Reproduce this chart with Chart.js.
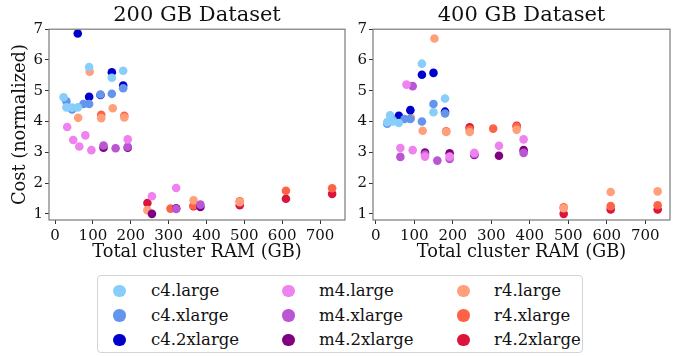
<!DOCTYPE html>
<html>
<head>
<meta charset="utf-8">
<script src="https://cdn.jsdelivr.net/npm/chart.js@4.4.0/dist/chart.umd.min.js"></script>
<style>
body { margin: 0; width: 680px; height: 356px; position: relative; overflow: hidden; background: #fff; font-family: "DejaVu Serif", serif; }
#left { position: absolute; left: 0; top: 0; }
#right { position: absolute; left: 345px; top: 0; }
.legend { position: absolute; left: 97px; top: 275px; width: 484px; height: 76px; border: 1px solid #d4d4d4; border-radius: 4px; }
.item { position: absolute; height: 24px; line-height: 24px; font-size: 16.5px; color: #111; white-space: nowrap; }
.dot { position: absolute; width: 12.5px; height: 12.5px; border-radius: 50%; top: 5.75px; }
</style>
</head>
<body>
<canvas id="left" width="350" height="270"></canvas>
<canvas id="right" width="335" height="270"></canvas>
<div class="legend" id="legend"></div>
<script>
// series (instance types) and colours
const seriesNames = ['c4.large', 'c4.xlarge', 'c4.2xlarge', 'm4.large', 'm4.xlarge', 'm4.2xlarge', 'r4.large', 'r4.xlarge', 'r4.2xlarge'];
const seriesColors = ['#87cefa', '#6495ed', '#0000cd', '#ee82ee', '#ba55d3', '#800080', '#ffa07a', '#ff6347', '#dc143c'];
const xTicks = [0, 100, 200, 300, 400, 500, 600, 700];
const yTicks = [1, 2, 3, 4, 5, 6, 7];

// 200 GB dataset: [total cluster RAM (GB), normalized cost]
const c4large200 = [[22.5, 4.79], [30, 4.46], [45, 4.45], [60, 4.46], [90, 5.77], [150, 5.42], [180, 5.65]];
const c4xlarge200 = [[30, 4.66], [45, 4.39], [75, 4.57], [90, 4.57], [120, 4.88], [150, 4.9], [180, 5.08]];
const c42xlarge200 = [[60, 6.86], [90, 4.8], [120, 4.86], [150, 5.6], [180, 5.17]];
const m4large200 = [[32, 3.82], [48, 3.4], [64, 3.19], [80, 3.55], [96, 3.07], [192, 3.42], [256, 1.57], [320, 1.84]];
const m4xlarge200 = [[128, 3.22], [160, 3.13], [192, 3.18], [320, 1.16], [384, 1.3]];
const m42xlarge200 = [[128, 3.15], [192, 3.15], [256, 1.0], [320, 1.18], [384, 1.22]];
const r4large200 = [[61, 4.12], [91.5, 5.62], [122, 4.11], [152.5, 4.43], [183, 4.13], [244, 1.12], [366, 1.44], [488, 1.38]];
const r4xlarge200 = [[122, 4.22], [183, 4.19], [305, 1.17], [366, 1.27], [488, 1.41], [610, 1.75], [732, 1.83]];
const r42xlarge200 = [[244, 1.35], [366, 1.25], [488, 1.28], [610, 1.49], [732, 1.65]];

// 400 GB dataset
const c4large400 = [[30, 3.98], [37.5, 4.2], [45, 4.0], [60, 3.95], [120, 5.88], [150, 4.3], [180, 4.75]];
const c4xlarge400 = [[30, 3.93], [45, 4.05], [75, 4.08], [90, 4.08], [120, 4.0], [150, 4.57], [180, 4.26]];
const c42xlarge400 = [[60, 4.19], [90, 4.37], [120, 5.52], [150, 5.58], [180, 4.32]];
const m4large400 = [[64, 3.14], [80, 5.2], [96, 3.07], [128, 2.86], [192, 2.86], [256, 2.98], [320, 3.21], [384, 3.42]];
const m4xlarge400 = [[64, 2.85], [96, 5.15], [128, 2.93], [160, 2.73], [192, 2.78], [256, 2.94], [384, 2.98]];
const m42xlarge400 = [[128, 2.99], [192, 2.97], [256, 2.91], [320, 2.89], [384, 3.07]];
const r4large400 = [[91.5, 4.12], [122, 3.7], [152.5, 6.7], [183, 3.66], [244, 3.66], [366, 3.73], [488, 1.18], [610, 1.71], [732, 1.73]];
const r4xlarge400 = [[183, 3.68], [244, 3.74], [305, 3.77], [366, 3.84], [488, 1.21], [610, 1.25], [732, 1.28]];
const r42xlarge400 = [[244, 3.81], [366, 3.86], [488, 1.0], [610, 1.14], [732, 1.14]];

const series200 = [c4large200, c4xlarge200, c42xlarge200, m4large200, m4xlarge200, m42xlarge200, r4large200, r4xlarge200, r42xlarge200];
const series400 = [c4large400, c4xlarge400, c42xlarge400, m4large400, m4xlarge400, m42xlarge400, r4large400, r4xlarge400, r42xlarge400];

const serif = '"DejaVu Serif", serif';

// box around the plot area, like matplotlib spines
const framePlugin = {
    id: 'frame',
    afterDatasetsDraw(chart) {
        const { ctx, chartArea: { left, top, right, bottom } } = chart;
        ctx.save();
        ctx.strokeStyle = '#7a7a7a';
        ctx.lineWidth = 1.2;
        ctx.strokeRect(left, top, right - left, bottom - top);
        ctx.restore();
    }
};

function makeChart(id, title, series, xMin, xMax, yWidth, showYTitle) {
    const datasets = series.map((pts, i) => ({
        label: seriesNames[i],
        data: pts.map(p => ({ x: p[0], y: p[1] })),
        backgroundColor: seriesColors[i],
        borderWidth: 0,
        pointRadius: 4.3
    }));
    return new Chart(document.getElementById(id), {
        type: 'scatter',
        data: { datasets },
        options: {
            responsive: false,
            animation: false,
            layout: { padding: { left: 0, right: id === 'left' ? 5 : 10, top: 0, bottom: 0 } },
            plugins: {
                legend: { display: false },
                tooltip: { enabled: false },
                title: {
                    display: true,
                    fullSize: false,
                    text: title,
                    color: '#111',
                    font: { family: serif, size: 21, weight: 'normal', lineHeight: 1.2 },
                    padding: { top: 3, bottom: 1 }
                }
            },
            scales: {
                x: {
                    type: 'linear',
                    min: xMin,
                    max: xMax,
                    afterBuildTicks: s => { s.ticks = xTicks.map(v => ({ value: v })); },
                    afterFit: s => { s.height = 50; },
                    ticks: { color: '#111', font: { family: serif, size: 15 }, padding: 3, maxRotation: 0 },
                    grid: { drawOnChartArea: false, tickLength: 4, tickColor: '#333' },
                    border: { display: false },
                    title: {
                        display: true,
                        text: 'Total cluster RAM (GB)',
                        color: '#111',
                        font: { family: serif, size: 17.8, lineHeight: 1.2 },
                        padding: { top: 0, bottom: 7.3 }
                    }
                },
                y: {
                    type: 'linear',
                    min: 0.8,
                    max: 7,
                    afterBuildTicks: s => { s.ticks = yTicks.map(v => ({ value: v })); },
                    afterFit: s => { s.width = yWidth; },
                    ticks: { color: '#111', font: { family: serif, size: 15 }, padding: 2 },
                    grid: { drawOnChartArea: false, tickLength: 4, tickColor: '#333' },
                    border: { display: false },
                    title: {
                        display: showYTitle,
                        text: 'Cost (normalized)',
                        color: '#111',
                        font: { family: serif, size: 17.8, lineHeight: 1.2 },
                        padding: { top: 9.3, bottom: 0 }
                    }
                }
            }
        },
        plugins: [framePlugin]
    });
}

makeChart('left', '200 GB Dataset', series200, -16, 766, 49, true);
makeChart('right', '400 GB Dataset', series400, -7, 764, 28, false);

// legend, three columns of three
const legend = document.getElementById('legend');
seriesNames.forEach((name, i) => {
    const col = Math.floor(i / 3), row = i % 3;
    const item = document.createElement('div');
    item.className = 'item';
    item.style.left = [15, 184, 359][col] + 'px';
    item.style.top = (3 + row * 24.5) + 'px';
    item.innerHTML = '<span class="dot" style="background:' + seriesColors[i] + '"></span>';
    const label = document.createElement('span');
    label.style.marginLeft = [38, 37, 37][col] + 'px';
    label.textContent = name;
    item.appendChild(label);
    legend.appendChild(item);
});
</script>
</body>
</html>
